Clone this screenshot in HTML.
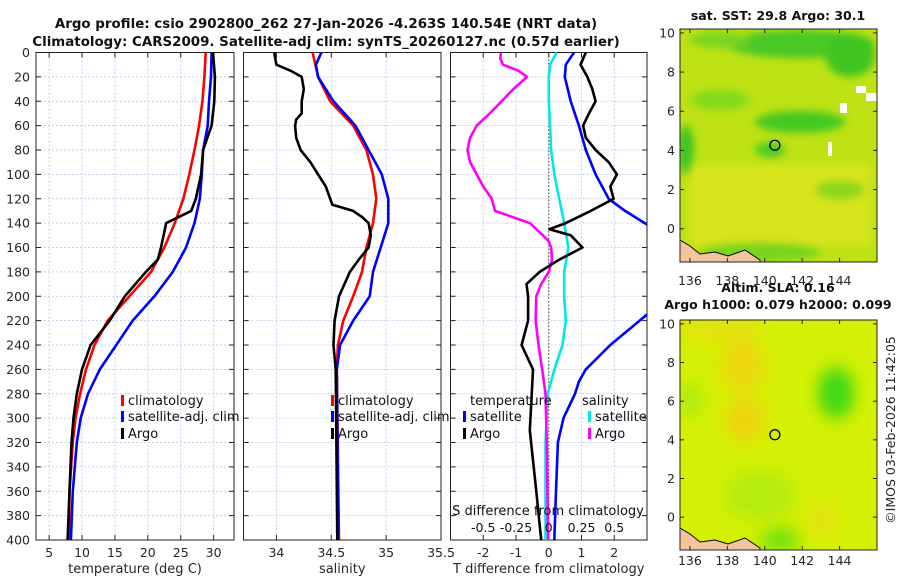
<!DOCTYPE html>
<html><head><meta charset="utf-8"><style>
html,body{margin:0;padding:0;background:#fff;}
svg{display:block;font-family:"DejaVu Sans","Liberation Sans",sans-serif;}
</style></head><body>
<svg id="fig" width="900" height="580" viewBox="0 0 900 580" xmlns="http://www.w3.org/2000/svg">
<defs>
<filter id="blur8"><feGaussianBlur stdDeviation="8"/></filter>
<filter id="blur4"><feGaussianBlur stdDeviation="4"/></filter>
<clipPath id="c1"><rect x="36" y="52" width="198" height="488"/></clipPath>
<clipPath id="c2"><rect x="243.5" y="52" width="197.5" height="488"/></clipPath>
<clipPath id="c3"><rect x="450.5" y="52" width="196.5" height="488"/></clipPath>
<clipPath id="cm1"><rect x="680" y="29" width="197" height="233"/></clipPath>
<clipPath id="cm2"><rect x="680" y="320" width="197" height="230"/></clipPath>
</defs>
<text x="326" y="28" font-size="13.4" font-weight="bold" text-anchor="middle" fill="#111">Argo profile: csio 2902800_262 27-Jan-2026 -4.263S 140.54E (NRT data)</text>
<text x="326" y="46" font-size="13.4" font-weight="bold" text-anchor="middle" fill="#111">Climatology: CARS2009. Satellite-adj clim: synTS_20260127.nc (0.57d earlier)</text>
<g id="panels"></g>
<g id="maps"></g>
<text transform="translate(895,430) rotate(-90)" font-size="12.5" text-anchor="middle" fill="#222">©IMOS 03-Feb-2026 11:42:05</text>
</svg>
<script>
// ---------- data ----------
const depthTicks = [0,20,40,60,80,100,120,140,160,180,200,220,240,260,280,300,320,340,360,380,400];
const tempTickVals = [5,10,15,20,25,30];
const salTickVals = [34,34.5,35,35.5];
const tdiffTickVals = [-2,-1,0,1,2];
const sdiffTickLabels = ["-0.5","-0.25","0","0.25","0.5"];
const sdiffTickVals = [-0.5,-0.25,0,0.25,0.5];

const tClimDepth = [0,20,40,60,80,100,120,140,160,180,200,220,240,260,280,300,320,360,400];
const tClimVal   = [28.8,28.6,28.3,27.8,27.1,26.3,25.4,24.1,22.5,20.5,17.2,13.9,11.9,10.6,9.7,9.0,8.6,8.1,8.0];
const tSatDepth  = [0,20,40,60,80,100,120,140,160,180,200,220,240,260,280,300,320,340,360,400];
const tSatVal    = [29.7,29.6,29.3,29.1,28.4,28.2,27.9,27.1,25.8,23.8,21.0,17.7,15.2,12.7,10.9,9.8,9.2,8.9,8.6,8.3];
const tArgoDepth = [0,20,40,60,80,100,120,130,140,150,160,170,180,200,220,240,260,280,300,320,360,400];
const tArgoVal   = [29.9,30.2,30.1,29.7,28.4,28.1,27.3,26.6,22.8,22.4,22.0,21.5,19.7,16.5,14.2,11.3,10.0,9.2,8.7,8.4,8.1,7.8];

const sClimDepth = [0,20,40,60,80,100,120,140,160,180,200,220,240,260,400];
const sClimVal   = [34.33,34.38,34.49,34.70,34.82,34.88,34.91,34.88,34.82,34.78,34.70,34.61,34.56,34.55,34.57];
const sSatDepth  = [0,10,20,40,60,80,100,120,140,160,180,200,220,240,260,400];
const sSatVal    = [34.41,34.36,34.38,34.52,34.72,34.84,34.96,35.02,35.02,34.95,34.88,34.85,34.70,34.58,34.55,34.565];
const sArgoDepth = [0,10,15,20,30,40,50,55,60,70,80,90,100,110,120,125,130,135,140,150,160,170,180,200,220,240,260,400];
const sArgoVal   = [33.98,34.0,34.13,34.23,34.25,34.23,34.23,34.18,34.17,34.18,34.22,34.31,34.38,34.45,34.49,34.51,34.70,34.78,34.84,34.86,34.84,34.75,34.67,34.57,34.53,34.52,34.54,34.555];

const dTSatDepth = [0,10,20,40,60,80,100,120,130,140,150,200,215,240,260,270,280,300,320,360,400];
const dTSatVal   = [0.77,0.52,0.49,0.67,0.92,1.13,1.43,1.83,2.33,2.93,3.6,3.6,3.0,1.88,1.13,0.92,0.8,0.45,0.28,0.22,0.17];
const dTArgoDepth = [0,10,20,30,40,50,60,70,80,90,100,110,120,130,140,145,150,160,170,180,190,200,220,240,260,270,310,360,400];
const dTArgoVal   = [1.13,0.97,1.18,1.33,1.43,1.23,1.05,1.13,1.43,1.83,2.08,1.88,1.98,1.28,0.52,0.02,0.67,1.03,0.32,-0.28,-0.68,-0.63,-0.63,-0.83,-0.48,-0.5,-0.58,-0.38,-0.23];
const dSSatDepth = [0,10,20,40,60,80,100,120,140,160,180,200,220,240,260,280,320,400];
const dSSatVal   = [0.06,0.01,0,0,0.01,0.018,0.043,0.08,0.118,0.15,0.118,0.118,0.13,0.105,0.043,-0.008,-0.025,-0.025];
const dSArgoDepth = [0,5,10,15,20,30,40,50,60,70,80,90,100,110,120,130,140,150,155,160,170,180,190,200,220,240,260,280,320,400];
const dSArgoVal   = [-0.365,-0.37,-0.35,-0.23,-0.165,-0.27,-0.36,-0.45,-0.55,-0.6,-0.62,-0.6,-0.55,-0.5,-0.435,-0.41,-0.145,-0.045,0,0.018,0.025,0,-0.058,-0.095,-0.1,-0.078,-0.05,-0.025,-0.015,-0.005];

// ---------- helpers ----------
const NS = "http://www.w3.org/2000/svg";
const Y0 = 52.5, Y1 = 540;
function yScale(p){ return Y0 + p/400*(Y1-Y0); }
function mk(tag, attrs, parent){ const e=document.createElementNS(NS,tag); for(const k in attrs) e.setAttribute(k,attrs[k]); parent.appendChild(e); return e; }
const panelsG = document.getElementById('panels');

const panels = [
 {id:'temperature', x0:36, x1:234, lo:3.0, hi:33.1, clip:'c1', xlabel:'temperature (deg C)'},
 {id:'salinity', x0:243.5, x1:441, lo:33.7, hi:35.5, clip:'c2', xlabel:'salinity'},
 {id:'difference', x0:450.5, x1:647, lo:-3, hi:3, clip:'c3', xlabel:'T difference from climatology'}
];
function xs(P,v){ return P.x0 + (v-P.lo)/(P.hi-P.lo)*(P.x1-P.x0); }

function drawAxes(P, tickVals, tickLabels, showY){
  const g = mk('g',{},panelsG);
  
  
  depthTicks.forEach(p=>{ if(p>0&&p<400){ const l=mk('line',{x1:P.x0,x2:P.x1,y1:yScale(p),y2:yScale(p),stroke:'#b8c4ea','stroke-width':0.8,'stroke-dasharray':'2,2'},g);
      }});
  tickVals.forEach(v=>{ const x=xs(P,v); if(x>P.x0+1&&x<P.x1-1){ const l=mk('line',{x1:x,x2:x,y1:Y0,y2:Y1,stroke:'#b8c4ea','stroke-width':0.8,'stroke-dasharray':'2,2'},g);
      }});
  depthTicks.forEach(p=>{ const y=yScale(p);
    mk('line',{x1:P.x0,x2:P.x0+5,y1:y,y2:y,stroke:'#222','stroke-width':1},g);
    mk('line',{x1:P.x1-5,x2:P.x1,y1:y,y2:y,stroke:'#222','stroke-width':1},g);
    if(showY){ const t=mk('text',{x:P.x0-6,y:y+4.5,'font-size':12.5,'text-anchor':'end',fill:'#262626'},g); t.textContent=p;
        }
  });
  tickVals.forEach((v,i)=>{ const x=xs(P,v);
    mk('line',{x1:x,x2:x,y1:Y1,y2:Y1-5,stroke:'#222','stroke-width':1},g);
    mk('line',{x1:x,x2:x,y1:Y0,y2:Y0+5,stroke:'#222','stroke-width':1},g);
    const t=mk('text',{x:x,y:557,'font-size':12.5,'text-anchor':'middle',fill:'#262626'},g); t.textContent=tickLabels[i];
     
  });
  mk('rect',{x:P.x0,y:Y0,width:P.x1-P.x0,height:Y1-Y0,fill:'none',stroke:'#222','stroke-width':1},g);
  const xl=mk('text',{x:(P.x0+P.x1)/2,y:573,'font-size':13,'text-anchor':'middle',fill:'#262626'},g); xl.textContent=P.xlabel;
   
  return g;
}
function drawLine(P, depths, vals, color, name, w){
  const pts = depths.map((p,i)=>xs(P,vals[i]).toFixed(1)+','+yScale(p).toFixed(1)).join(' ');
  const l = mk('polyline',{points:pts,fill:'none',stroke:color,'stroke-width':w||2.6,'stroke-linejoin':'round','clip-path':'url(#'+P.clip+')'},panelsG);
  
  
}
function legendEntry(x,y,color,label,name){
  const g=mk('g',{},panelsG);
  
  
  if(color) mk('rect',{x:x,y:y-10,width:3,height:11,fill:color},g);
  const t=mk('text',{x:x+(color?7:0),y:y,'font-size':13,fill:'#111'},g); t.textContent=label;
}

const P1=panels[0], P2=panels[1], P3=panels[2];
drawAxes(P1,tempTickVals,tempTickVals.map(String),true);
drawLine(P1,tClimDepth,tClimVal,'#ff0000','temperature-climatology-line');
drawLine(P1,tSatDepth,tSatVal,'#0000ff','temperature-satellite-line');
drawLine(P1,tArgoDepth,tArgoVal,'#000000','temperature-argo-line');
legendEntry(121,405,'#ff0000','climatology','legend-climatology');
legendEntry(121,421,'#0000ff','satellite-adj. clim','legend-satellite-adj');
legendEntry(121,438,'#000000','Argo','legend-argo');
drawAxes(P2,salTickVals,salTickVals.map(String),false);
drawLine(P2,sClimDepth,sClimVal,'#ff0000','salinity-climatology-line');
drawLine(P2,sSatDepth,sSatVal,'#0000ff','salinity-satellite-line');
drawLine(P2,sArgoDepth,sArgoVal,'#000000','salinity-argo-line');
legendEntry(331,405,'#ff0000','climatology','legend-climatology-sal');
legendEntry(331,421,'#0000ff','satellite-adj. clim','legend-satellite-adj-sal');
legendEntry(331,438,'#000000','Argo','legend-argo-sal');
drawAxes(P3,tdiffTickVals,tdiffTickVals.map(String),false);
(function(){
  const z=mk('line',{x1:xs(P3,0),x2:xs(P3,0),y1:Y0,y2:Y1,stroke:'#4a4a20','stroke-width':1,'stroke-dasharray':'1.5,2'},panelsG);
   
})();
const sToT = v => v*4;
drawLine(P3,dSSatDepth,dSSatVal.map(sToT),'#00e8e8','salinity-diff-satellite-line');
drawLine(P3,dSArgoDepth,dSArgoVal.map(sToT),'#ff00ff','salinity-diff-argo-line');
drawLine(P3,dTSatDepth,dTSatVal,'#0000ff','temperature-diff-satellite-line');
drawLine(P3,dTArgoDepth,dTArgoVal,'#000000','temperature-diff-argo-line');
legendEntry(470,405,null,'temperature','legend-temperature-header');
legendEntry(463,421,'#0000ff','satellite','legend-t-satellite');
legendEntry(463,438,'#000000','Argo','legend-t-argo');
legendEntry(582,405,null,'salinity','legend-salinity-header');
legendEntry(588,421,'#00e8e8','satellite','legend-s-satellite');
legendEntry(588,438,'#ff00ff','Argo','legend-s-argo');
(function(){
  const t=mk('text',{x:548,y:515,'font-size':13,'text-anchor':'middle',fill:'#111'},panelsG); t.textContent='S difference from climatology';
   
  sdiffTickVals.forEach((v,i)=>{ const tt=mk('text',{x:xs(P3,sToT(v)),y:532,'font-size':12.5,'text-anchor':'middle',fill:'#111'},panelsG); tt.textContent=sdiffTickLabels[i];
      });
})();

// ---------- maps ----------
const mapsG=document.getElementById('maps');
const lonTicks=[136,138,140,142,144];
const latTicks=[0,2,4,6,8,10];
const argoLon=140.54, argoLat=4.263;
function drawMap(id, top, bottom, title, labelY, clip, layers){
  const x0=680,x1=877, lonLo=135.47, lonHi=146.0, latLo=-1.7, latHi=10.2;
  const lx=v=>x0+(v-lonLo)/(lonHi-lonLo)*(x1-x0);
  const ly=v=>bottom-(v-latLo)/(latHi-latLo)*(bottom-top);
  const g=mk('g',{},mapsG);
  
  
  const inner=mk('g',{'clip-path':'url(#'+clip+')'},g);
  layers(inner,x0,top,x1,bottom);
  mk('path',{d:`M680 ${bottom-22} L690 ${bottom-16} L700 ${bottom-8} L715 ${bottom-10} L728 ${bottom-6} L745 ${bottom-12} L760 ${bottom-2} L760 ${bottom} L680 ${bottom} Z`,fill:'#f4c49c',stroke:'#000','stroke-width':1},inner);
  mk('rect',{x:x0,y:top,width:x1-x0,height:bottom-top,fill:'none',stroke:'#222','stroke-width':1},g);
  const c=mk('circle',{cx:lx(argoLon),cy:ly(argoLat),r:5,fill:'none',stroke:'#000','stroke-width':1.3},g);
   
  lonTicks.forEach(v=>{ const x=lx(v); mk('line',{x1:x,x2:x,y1:bottom,y2:bottom-4,stroke:'#222'},g); mk('line',{x1:x,x2:x,y1:top,y2:top+4,stroke:'#222'},g);
    const t=mk('text',{x:x,y:labelY,'font-size':12.5,'text-anchor':'middle',fill:'#262626'},g); t.textContent=v;
      });
  latTicks.forEach(v=>{ const y=ly(v); mk('line',{x1:x0,x2:x0+4,y1:y,y2:y,stroke:'#222'},g); mk('line',{x1:x1-4,x2:x1,y1:y,y2:y,stroke:'#222'},g);
    const t=mk('text',{x:x0-5,y:y+4.5,'font-size':12.5,'text-anchor':'end',fill:'#262626'},g); t.textContent=v;
      });
  title.forEach((tl,i)=>{ const t=mk('text',{x:tl[1],y:tl[2],'font-size':12.5,'font-weight':'bold','text-anchor':'middle',fill:'#111'},g); t.textContent=tl[0];
      });
}
drawMap('sst-map',29,262,[['sat. SST: 29.8 Argo: 30.1',778,20]],285,'cm1',(g,x0,y0,x1,y1)=>{
  mk('rect',{x:x0,y:y0,width:x1-x0,height:y1-y0,fill:'#bee214'},g);
  const b=mk('g',{filter:'url(#blur4)'},g);
  mk('rect',{x:690,y:165,width:180,height:80,fill:'#d8e41a'},b);
  mk('ellipse',{cx:800,cy:44,rx:75,ry:14,fill:'#48c826'},b);
  mk('ellipse',{cx:850,cy:55,rx:25,ry:22,fill:'#40c424'},b);
  mk('ellipse',{cx:720,cy:40,rx:30,ry:8,fill:'#78d420'},b);
  mk('ellipse',{cx:800,cy:122,rx:45,ry:11,fill:'#44c824'},b);
  mk('ellipse',{cx:770,cy:150,rx:15,ry:8,fill:'#50cc24'},b);
  mk('ellipse',{cx:686,cy:150,rx:8,ry:25,fill:'#40c424'},b);
  mk('ellipse',{cx:720,cy:100,rx:30,ry:10,fill:'#84d81c'},b);
  mk('ellipse',{cx:840,cy:190,rx:25,ry:10,fill:'#8cd81c'},b);
  mk('ellipse',{cx:760,cy:252,rx:60,ry:10,fill:'#78d41c'},b);
  mk('rect',{x:856,y:86,width:10,height:7,fill:'#fff'},g);
  mk('rect',{x:866,y:93,width:11,height:8,fill:'#fff'},g);
  mk('rect',{x:840,y:103,width:7,height:10,fill:'#fff'},g);
  mk('rect',{x:828,y:142,width:4,height:14,fill:'#fff'},g);
});
drawMap('sla-map',320,550,[['Altim. SLA: 0.16',778,292],['Argo h1000: 0.079 h2000: 0.099',778,309]],565,'cm2',(g,x0,y0,x1,y1)=>{
  mk('rect',{x:x0,y:y0,width:x1-x0,height:y1-y0,fill:'#d4f004'},g);
  const b=mk('g',{filter:'url(#blur8)'},g);
  mk('ellipse',{cx:742,cy:365,rx:22,ry:28,fill:'#ecd808'},b);
  mk('ellipse',{cx:745,cy:420,rx:20,ry:22,fill:'#eed40a'},b);
  mk('ellipse',{cx:720,cy:330,rx:40,ry:10,fill:'#e6e008'},b);
  mk('ellipse',{cx:836,cy:393,rx:18,ry:26,fill:'#40d818'},b);
  mk('ellipse',{cx:690,cy:400,rx:10,ry:18,fill:'#a8ea10'},b);
  mk('ellipse',{cx:760,cy:495,rx:35,ry:25,fill:'#b4ec10'},b);
  mk('ellipse',{cx:780,cy:540,rx:20,ry:12,fill:'#70e010'},b);
  mk('ellipse',{cx:822,cy:520,rx:14,ry:20,fill:'#e2e208'},b);
});
</script>
</body></html>
